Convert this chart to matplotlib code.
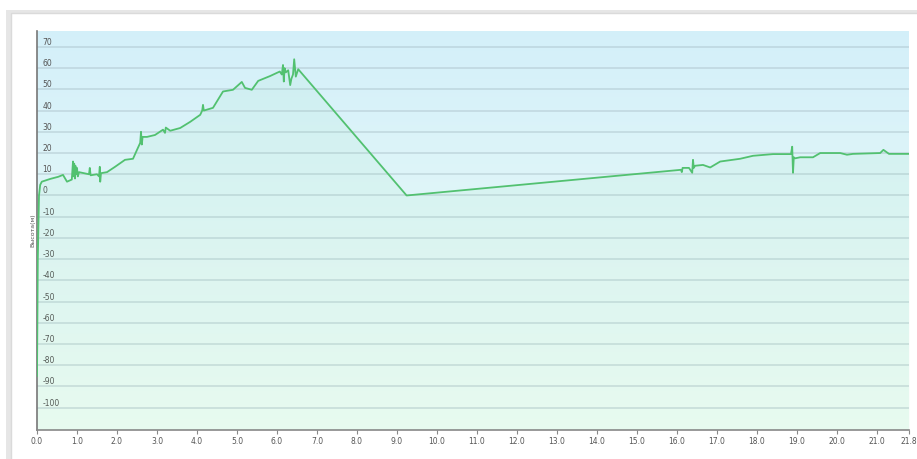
import numpy as np
import matplotlib
matplotlib.use("Agg")
import matplotlib.pyplot as plt
from matplotlib.patches import Rectangle

# distance (km) and elevation (m)
distance = [0.0, 0.02, 0.05, 0.08, 0.12, 0.33, 0.53, 0.65, 0.75, 0.87,
            0.90, 0.92, 0.93, 0.95, 0.96, 0.98, 1.00, 1.02, 1.05, 1.15,
            1.30, 1.32, 1.34, 1.40, 1.50, 1.55, 1.57, 1.58, 1.60, 1.75,
            1.95, 2.20, 2.40, 2.50, 2.58, 2.60, 2.62, 2.64, 2.75, 2.95,
            3.15, 3.20, 3.22, 3.33, 3.58, 3.83, 4.08, 4.13, 4.15, 4.17,
            4.40, 4.65, 4.90, 5.12, 5.20, 5.37, 5.53, 5.83, 6.00, 6.07,
            6.12, 6.15, 6.17, 6.19, 6.22, 6.28, 6.33, 6.36, 6.40, 6.43,
            6.47, 6.53, 9.24, 16.10, 16.12, 16.14, 16.30, 16.38, 16.40,
            16.42, 16.45, 16.65, 16.83, 17.08, 17.58, 17.90, 18.40, 18.85,
            18.88, 18.90, 18.92, 18.95, 19.08, 19.40, 19.58, 20.08, 20.25,
            20.40, 21.08, 21.16, 21.30, 21.80]
elevation = [-85, -30, 0, 5, 6.5, 7.8, 8.8, 9.7, 6.5, 7.5,
             16, 9, 15, 8, 14, 10, 13, 9, 11, 10.6,
             10, 13, 9.5, 9.7, 10, 9, 13.5, 6.5, 10.5, 11,
             13.5, 16.8, 17.3, 21.5, 24.8, 30, 24, 27.6, 27.6, 28.5,
             31, 29.5, 32, 30.5, 31.8, 34.7, 38, 40, 42.7, 40,
             41.3, 49, 49.8, 53.5, 50.7, 49.8, 54, 56.3, 57.8, 58.4,
             57, 61.5, 53.7, 60, 58, 59, 52, 55, 57, 64.2,
             56, 59.5, 0, 12.1, 11, 13, 13, 10.7, 16.8,
             13, 14, 14.4, 13.2, 16, 17.3, 18.7, 19.5, 19.5,
             23, 10.7, 18, 17.5, 18, 18, 20, 20, 19.2,
             19.6, 20, 21.5, 19.6, 19.6]

xticks = list(np.arange(0, 22, 1.0)) + [21.8]
yticks = list(range(-100, 80, 10))

fig = plt.figure(figsize=(9.17, 4.59), dpi=100)
fig.patch.set_facecolor("white")

# card with a soft shadow on the left and top
fig.patches.append(Rectangle((6 / 917, -0.05), 1.0, 1.05 - 10 / 459,
                             transform=fig.transFigure, facecolor="#e6e6e6",
                             edgecolor="none", zorder=-2))
fig.patches.append(Rectangle((11 / 917, -0.05), 1.0, 1.05 - 13 / 459,
                             transform=fig.transFigure, facecolor="white",
                             edgecolor="#dadada", linewidth=1, zorder=-1))

ax = fig.add_axes([37 / 917, 29 / 459, 872 / 917, 399 / 459])
ax.set_xlim(0, 21.8)
ax.set_ylim(-110.5, 77.5)

# gradient background, light blue at top to mint at bottom
top = np.array([0.83, 0.94, 0.98])
bottom = np.array([0.94, 0.995, 0.965])
t = np.linspace(0, 1, 256)[:, None]
grad = (top * (1 - t) + bottom * t)[:, None, :]
ax.imshow(grad, extent=[0, 1, 0, 1], transform=ax.transAxes,
          aspect="auto", zorder=0)

for y in yticks:
    ax.axhline(y, color="#9fb5bd", alpha=0.45, linewidth=1.1, zorder=1)

ax.fill_between(distance, elevation, -110.5, color="#5ccf7e", alpha=0.05,
                linewidth=0, zorder=2)
ax.plot(distance, elevation, color="#52c170", linewidth=1.3, zorder=3)

ax.set_xticks(xticks)
ax.set_xticklabels([f"{v:.1f}" for v in xticks])
ax.set_yticks(yticks)
ax.set_yticklabels([str(v) for v in yticks])
ax.tick_params(axis="x", length=3, width=0.8, color="#888888",
               labelsize=5.5, labelcolor="#555555", pad=2)
ax.tick_params(axis="y", length=0, pad=-4, labelsize=5.5,
               labelcolor="#555555")
for lbl in ax.get_yticklabels():
    lbl.set_horizontalalignment("left")
    lbl.set_verticalalignment("bottom")

for side in ["top", "right"]:
    ax.spines[side].set_visible(False)
ax.spines["left"].set_color("#777777")
ax.spines["left"].set_linewidth(1.2)
ax.spines["bottom"].set_color("#888888")
ax.spines["bottom"].set_linewidth(1.2)

ax.set_ylabel("Высота(м)", fontsize=4.5, color="#555555", labelpad=1)

fig.savefig("out.png", dpi=100)
